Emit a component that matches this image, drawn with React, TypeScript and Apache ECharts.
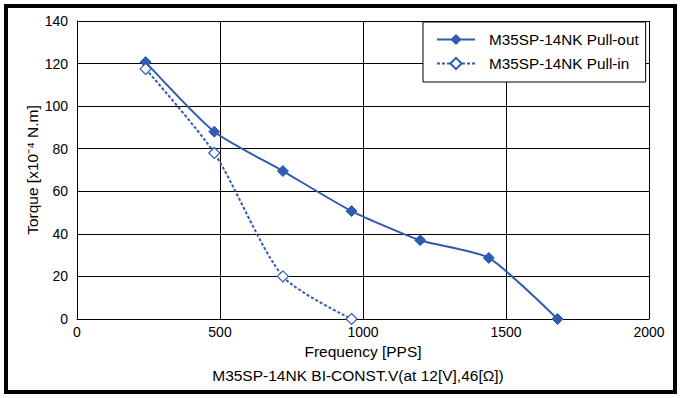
import React, { useEffect, useRef } from "react";
import * as echarts from "echarts";

const pullOutFreq = [240, 480, 720, 960, 1200, 1440, 1680];
const pullOutTorque = [120.7, 88, 69.5, 50.7, 37, 28.7, 0];
const pullInFreq = [240, 480, 720, 960];
const pullInTorque = [117.5, 78, 20, 0];
const seriesNames = ["M35SP-14NK Pull-out", "M35SP-14NK Pull-in"];
const xAxisName = "Frequency [PPS]";
const yAxisName = "Torque [x10⁻⁴ N.m]";
const subtitle = "M35SP-14NK BI-CONST.V(at 12[V],46[Ω])";

const FONT = "'Liberation Sans', Arial, sans-serif";
const BLUE = "#2f5caf";

export default function App() {
  const ref = useRef<HTMLDivElement>(null);
  useEffect(() => {
    if (!ref.current) return;
    const chart = echarts.init(ref.current, null, { renderer: "svg" });
    chart.setOption({
      animation: false,
      backgroundColor: "#fff",
      textStyle: { fontFamily: FONT },
      grid: { left: 77, right: 33, top: 21, bottom: 79 },
      legend: {
        orient: "vertical",
        left: 423,
        top: 22,
        padding: [10, 7, 11, 13],
        itemWidth: 38,
        itemHeight: 14,
        itemGap: 9,
        backgroundColor: "#fff",
        borderColor: "#000",
        borderWidth: 1,
        borderRadius: 0,
        textStyle: { fontSize: 15.3, color: "#000", fontFamily: FONT, padding: [0, 0, 0, 9] },
        data: seriesNames,
      },
      xAxis: {
        type: "value",
        min: 0,
        max: 2000,
        interval: 500,
        name: xAxisName,
        nameLocation: "middle",
        nameGap: 24,
        nameMoveOverlap: false,
        nameTextStyle: { fontSize: 15.5, color: "#000", fontFamily: FONT },
        axisLine: { show: true, lineStyle: { color: "#000", width: 1 } },
        axisTick: { show: false },
        axisLabel: {
          fontSize: 14,
          color: "#000",
          margin: 6,
          fontFamily: FONT,
          formatter: (v: number) => String(v),
        },
        splitLine: { show: true, lineStyle: { color: "#000", width: 1 } },
      },
      yAxis: {
        type: "value",
        min: 0,
        max: 140,
        interval: 20,
        name: yAxisName,
        nameLocation: "middle",
        nameGap: 37,
        nameMoveOverlap: false,
        nameTextStyle: { fontSize: 15.5, color: "#000", fontFamily: FONT },
        axisLine: { show: true, lineStyle: { color: "#000", width: 1 } },
        axisTick: { show: false },
        axisLabel: { fontSize: 14, color: "#000", margin: 9, fontFamily: FONT },
        splitLine: { show: true, lineStyle: { color: "#000", width: 1 } },
      },
      graphic: [
        {
          type: "rect",
          shape: { x: 6, y: 6, width: 669, height: 386 },
          style: { fill: "none", stroke: "#000", lineWidth: 4 },
          z: 100,
        },
        {
          type: "text",
          x: 358,
          y: 375,
          style: {
            text: subtitle,
            fontSize: 15.5,
            fill: "#000",
            fontFamily: FONT,
            align: "center",
            verticalAlign: "middle",
          },
        },
      ],
      series: [
        {
          name: seriesNames[0],
          type: "line",
          data: pullOutFreq.map((f, i) => [f, pullOutTorque[i]]),
          smooth: 0.2,
          symbol: "diamond",
          symbolSize: 11,
          lineStyle: { color: BLUE, width: 2 },
          itemStyle: { color: BLUE, borderColor: BLUE },
        },
        {
          name: seriesNames[1],
          type: "line",
          data: pullInFreq.map((f, i) => [f, pullInTorque[i]]),
          smooth: 0.25,
          symbol: "diamond",
          symbolSize: 11,
          lineStyle: { color: BLUE, width: 2, type: [3, 2] },
          itemStyle: { color: "#fff", borderColor: BLUE, borderWidth: 1.2 },
        },
      ],
    });
    return () => chart.dispose();
  }, []);
  return (
    <div
      ref={ref}
      style={{ position: "absolute", left: 0, top: 0, width: 682, height: 398 }}
    />
  );
}
